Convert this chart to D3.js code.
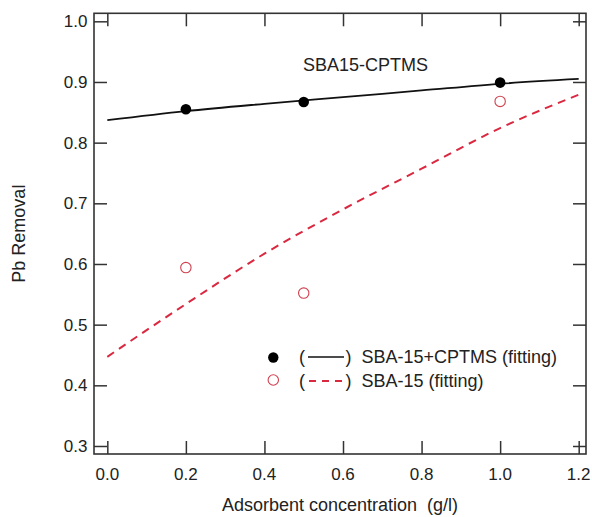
<!DOCTYPE html>
<html>
<head>
<meta charset="utf-8">
<script src="https://cdn.jsdelivr.net/npm/d3@7"></script>
<style>
  html, body { margin: 0; padding: 0; background: #fff; }
  svg text { font-family: "Liberation Sans", Arial, sans-serif; fill: #222; }
</style>
</head>
<body>
<svg id="chart" width="592" height="517"></svg>
<script>
// ---- data ----
const cptmsX = [0.2, 0.5, 1.0];
const cptmsY = [0.855, 0.867, 0.899];
const sba15X = [0.2, 0.5, 1.0];
const sba15Y = [0.594, 0.552, 0.868];
const fitX = [0.0, 0.2, 0.4, 0.6, 0.8, 1.0, 1.2];
const cptmsFitY = [0.837, 0.852, 0.864, 0.875, 0.886, 0.897, 0.905];
const sba15FitY = [0.447, 0.534, 0.617, 0.690, 0.757, 0.824, 0.879];
const xTicks = [0.0, 0.2, 0.4, 0.6, 0.8, 1.0, 1.2];
const yTicks = [0.3, 0.4, 0.5, 0.6, 0.7, 0.8, 0.9, 1.0];
const legendLabels = ["SBA-15+CPTMS (fitting)", "SBA-15 (fitting)"];
const annotation = "SBA15-CPTMS";
const xTitle = "Adsorbent concentration  (g/l)";
const yTitle = "Pb Removal";

// ---- layout ----
const L = 94, R = 586, T = 13.3, B = 454;
const tickLen = 13;
const red = "#d9283f";
const redMarker = "#d0404f";
const frameColor = "#333";

const svg = d3.select("#chart");
const x = d3.scaleLinear().domain([-0.0339, 1.2186]).range([L, R]);
const y = d3.scaleLinear().domain([0.2868, 1.0132]).range([B, T]);

// axes (ticks inward on all sides)
const fmt = d3.format(".1f");
const gx = svg.append("g").attr("transform", `translate(0,${B})`)
  .call(d3.axisTop(x).tickValues(xTicks).tickSize(tickLen).tickFormat(""));
const gxt = svg.append("g").attr("transform", `translate(0,${T})`)
  .call(d3.axisBottom(x).tickValues(xTicks).tickSize(tickLen).tickFormat(""));
const gy = svg.append("g").attr("transform", `translate(${L},0)`)
  .call(d3.axisRight(y).tickValues(yTicks).tickSize(tickLen).tickFormat(""));
const gyr = svg.append("g").attr("transform", `translate(${R},0)`)
  .call(d3.axisLeft(y).tickValues(yTicks).tickSize(tickLen).tickFormat(""));
[gx, gxt, gy, gyr].forEach(g => {
  g.select(".domain").remove();
  g.selectAll(".tick line").attr("stroke", frameColor).attr("stroke-width", 1.5);
});

// tick labels
svg.append("g").selectAll("text").data(xTicks).join("text")
  .attr("x", d => x(d)).attr("y", 480)
  .attr("text-anchor", "middle").attr("font-size", 17)
  .text(d => fmt(d));
svg.append("g").selectAll("text").data(yTicks).join("text")
  .attr("x", 87.5).attr("y", d => y(d)).attr("dy", "0.36em")
  .attr("text-anchor", "end").attr("font-size", 17)
  .text(d => fmt(d));

// frame
svg.append("rect").attr("x", L).attr("y", T).attr("width", R - L).attr("height", B - T)
  .attr("fill", "none").attr("stroke", frameColor).attr("stroke-width", 1.6);

// fit lines
const line = d3.line().curve(d3.curveMonotoneX).x(d => x(d[0])).y(d => y(d[1]));
svg.append("path").datum(fitX.map((v, i) => [v, sba15FitY[i]]))
  .attr("d", line).attr("fill", "none").attr("stroke", red)
  .attr("stroke-width", 2).attr("stroke-dasharray", "8,6");
svg.append("path").datum(fitX.map((v, i) => [v, cptmsFitY[i]]))
  .attr("d", line).attr("fill", "none").attr("stroke", "#111")
  .attr("stroke-width", 1.8);

// points
svg.append("g").selectAll("circle").data(sba15X.map((v, i) => [v, sba15Y[i]])).join("circle")
  .attr("cx", d => x(d[0])).attr("cy", d => y(d[1])).attr("r", 5.2)
  .attr("fill", "#fff").attr("stroke", redMarker).attr("stroke-width", 1.1);
svg.append("g").selectAll("circle").data(cptmsX.map((v, i) => [v, cptmsY[i]])).join("circle")
  .attr("cx", d => x(d[0])).attr("cy", d => y(d[1])).attr("r", 5.3)
  .attr("fill", "#000");

// annotation
svg.append("text").attr("x", 303).attr("y", 71).attr("font-size", 18).text(annotation);

// legend
const legRows = [
  {yb: 363, cy: 357.5, filled: true},
  {yb: 387, cy: 380, filled: false}
];
legRows.forEach((r, i) => {
  const c = svg.append("circle").attr("cx", 273.3).attr("cy", r.cy).attr("r", 5.2);
  if (r.filled) c.attr("fill", "#000");
  else c.attr("fill", "#fff").attr("stroke", redMarker).attr("stroke-width", 1.1);
  svg.append("text").attr("x", 299).attr("y", r.yb).attr("font-size", 18).text("(");
  svg.append("text").attr("x", 345.5).attr("y", r.yb).attr("font-size", 18).text(")");
  const ly = r.yb - 6;
  const ln = svg.append("line").attr("x1", 308).attr("x2", 344).attr("y1", ly).attr("y2", ly);
  if (r.filled) ln.attr("stroke", "#111").attr("stroke-width", 1.6);
  else ln.attr("stroke", red).attr("stroke-width", 2).attr("stroke-dasharray", "7,6").attr("x1", 309);
  svg.append("text").attr("x", 361.5).attr("y", r.yb).attr("font-size", 18).text(legendLabels[i]);
});

// axis titles
svg.append("text").attr("x", (L + R) / 2).attr("y", 511).attr("text-anchor", "middle")
  .attr("font-size", 18).attr("xml:space", "preserve").style("white-space", "pre").text(xTitle);
svg.append("text").attr("transform", `translate(25,${(T + B) / 2}) rotate(-90)`)
  .attr("text-anchor", "middle").attr("font-size", 18).text(yTitle);
</script>
</body>
</html>
